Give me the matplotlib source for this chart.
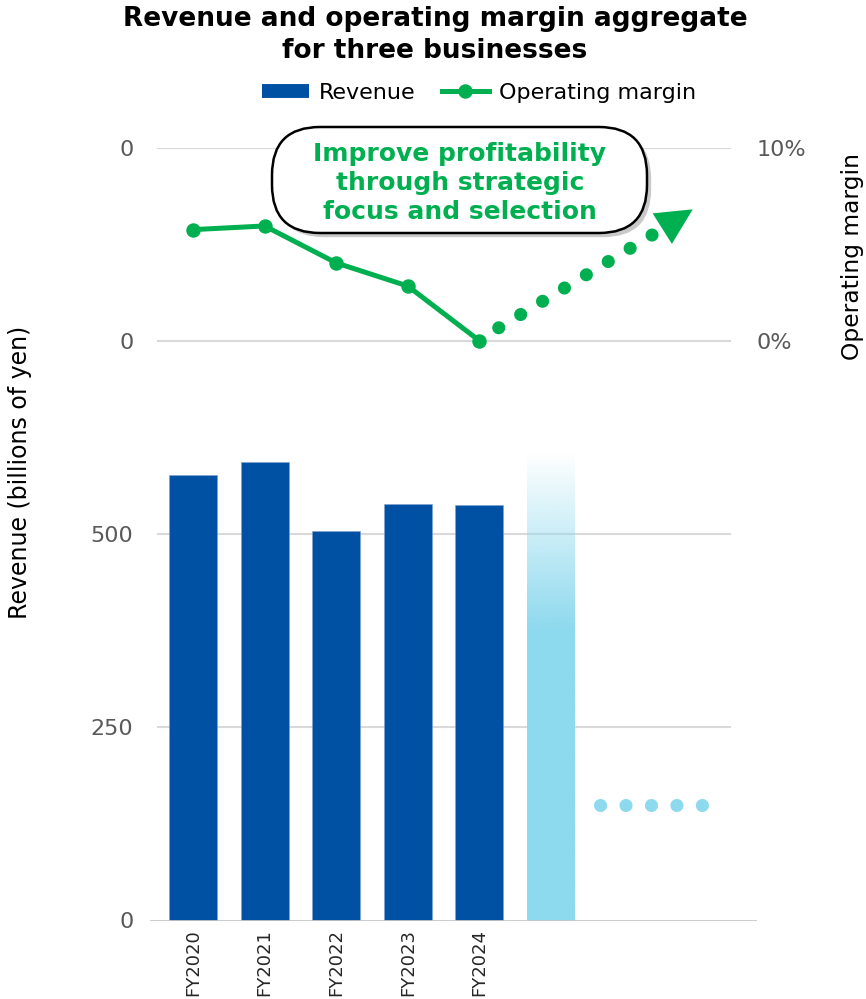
import numpy as np
import matplotlib
matplotlib.use("Agg")
import matplotlib.pyplot as plt
import matplotlib.patheffects as pe
from matplotlib.patches import FancyBboxPatch
from matplotlib.lines import Line2D

# data
years = ["FY2020", "FY2021", "FY2022", "FY2023", "FY2024"]
revenue = [576, 593, 504, 539, 538]          # billions of yen
margin = [5.75, 5.94, 4.03, 2.83, 0.0]       # %
forecast_top = 606       # faded projection bar
forecast_solid = 376     # where the fade starts
proj_start = (4.27, 0.67)   # dotted margin projection
proj_end = (6.42, 5.49)
proj_tip = (6.98, 6.8)
rev_dots_x = [5.68, 7.12]   # "....." after the projection bar
rev_dots_y = 150

ytick_vals = [0, 250, 500, 750, 1000]
ytick_lbls = ["0", "250", "500", "0", "0"]

BLUE = "#0050A4"
GREEN = "#00B050"
LIGHT = "#8DD9EE"
GRAY = "#595959"

fig = plt.figure(figsize=(8.66, 9.99), dpi=100)
W, H = 866, 999
ax = fig.add_axes([150 / W, 1 - 920.5 / H, (757 - 150) / W, (920.5 - 147.5) / H])

# grid lines (don't run the full width)
for v in ytick_vals[1:]:
    ax.plot([-0.49, 7.5], [v, v], color="#D9D9D9", lw=1.5, zorder=0)
ax.axhline(0, color="#C8C8C8", lw=2, zorder=3)

x = np.arange(len(years))
ax.bar(x, revenue, width=0.67, color=BLUE, edgecolor="#7FA3D0", linewidth=0.4, zorder=2)

# gradient projection bar
n = 300
grad = np.zeros((n, 1, 4))
grad[:, 0, :3] = matplotlib.colors.to_rgb(LIGHT)
vals = np.linspace(0, forecast_top, n)
grad[:, 0, 3] = np.clip((forecast_top - vals) / (forecast_top - forecast_solid), 0, 1)
ax.imshow(grad, extent=[5 - 0.33, 5 + 0.33, 0, forecast_top], origin="lower",
          aspect="auto", zorder=2, interpolation="bilinear")
ax.set_xlim(-0.60, 7.877)
ax.set_ylim(0, 1000)

ax.plot(rev_dots_x, [rev_dots_y, rev_dots_y], color=LIGHT, lw=9.4,
        linestyle=(0, (0.01, 1.94)), dash_capstyle="round", zorder=3)

ax.set_yticks(ytick_vals)
ax.set_yticklabels(ytick_lbls, fontsize=16, color=GRAY)
ax.tick_params(axis="y", length=0, pad=12)
ax.set_xticks(x)
ax.set_xticklabels(years, rotation=90, fontsize=13, color="#262626")
ax.tick_params(axis="x", length=0, pad=6)
for s in ax.spines.values():
    s.set_visible(False)

# margin on twin axis
ax2 = ax.twinx()
ax2.set_ylim(-30, 10)
ax2.plot(x, margin, color=GREEN, lw=3.6, marker="o", markersize=9.4, zorder=5)
ax2.plot([proj_start[0], proj_end[0]], [proj_start[1], proj_end[1]], color=GREEN,
         lw=9.4, linestyle=(0, (0.01, 1.95)), dash_capstyle="round")
ax2.annotate("", xy=proj_tip, xytext=proj_end,
             arrowprops=dict(arrowstyle="-|>,head_length=2.6,head_width=1.3",
                             color=GREEN, lw=0, shrinkA=0, shrinkB=0))
ax2.set_yticks([0, 10])
ax2.set_yticklabels(["0%", "10%"], fontsize=16, color=GRAY)
ax2.tick_params(axis="y", length=0, pad=0)
for s in ax2.spines.values():
    s.set_visible(False)

# callout bubble
box = FancyBboxPatch((2.72, (H - 233) / 100), 3.75, 1.06,
                     boxstyle="round,pad=0,rounding_size=0.48",
                     transform=fig.dpi_scale_trans, fc="white", ec="black", lw=1.8,
                     zorder=10)
box.set_path_effects([pe.SimplePatchShadow(offset=(3, -3), alpha=0.3), pe.Normal()])
fig.add_artist(box)
fig.text(460 / W, 1 - 183 / H, "Improve profitability\nthrough strategic\nfocus and selection",
         ha="center", va="center", fontsize=18, fontweight="bold", color=GREEN,
         linespacing=1.25, zorder=11)

# title, legend, axis labels
fig.text(435 / W, 1 - 6 / H, "Revenue and operating margin aggregate\nfor three businesses",
         ha="center", va="top", fontsize=19, fontweight="bold", linespacing=1.3)
handles = [Line2D([], [], color=BLUE, lw=10, solid_capstyle="butt"),
           Line2D([], [], color=GREEN, lw=3.6, marker="o", markersize=9.4)]
fig.legend(handles, ["Revenue", "Operating margin"], loc="center",
           bbox_to_anchor=(479 / W, 1 - 93 / H), ncol=2, frameon=False, fontsize=16,
           handlelength=2.1, handletextpad=0.45, columnspacing=1.2)
fig.text(20 / W, 1 - 472 / H, "Revenue (billions of yen)", rotation=90,
         ha="center", va="center", fontsize=17)
fig.text(852 / W, 1 - 257 / H, "Operating margin", rotation=90,
         ha="center", va="center", fontsize=16.8)

fig.savefig("out.png", dpi=100)
